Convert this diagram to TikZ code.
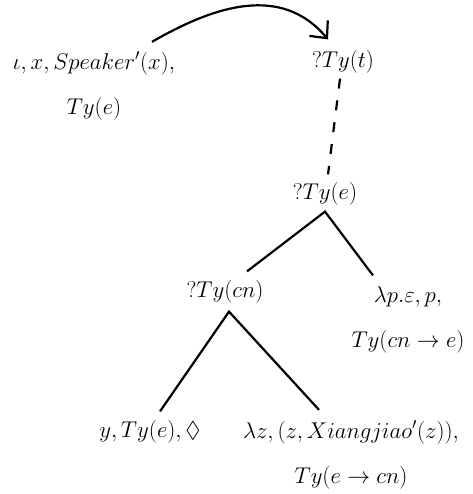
\documentclass[tikz,border=0pt]{standalone}
\usepackage{amssymb}
\usetikzlibrary{arrows.meta}
\tikzset{
  every node/.style={inner sep=0pt,align=center,scale=1.1,font=\fontsize{20.74}{41}\selectfont},
  branch/.style={line width=2.2pt,line join=miter},
  link/.style={line width=2.2pt,dash pattern=on 10pt off 12pt},
  move/.style={line width=2.2pt,-{Straight Barb[length=13pt,width=24pt]}}
}
\begin{document}
\begin{tikzpicture}[x=1pt,y=1pt]
\useasboundingbox (0,0) rectangle (472,-494);
\draw(94,-86) node(speaker){$\iota,x,Speaker'(x),$\\$Ty(e)$};
\draw(343,-62) node(t){$?Ty(t)$};
\draw(325,-194) node(e){$?Ty(e)$};
\draw(225,-292) node(cn){$?Ty(cn)$};
\draw(408,-320) node(eps){$\lambda p.\varepsilon,p,$\\$Ty(cn\rightarrow e)$};
\draw(150,-432) node(y){$y,Ty(e),\lozenge$};
\draw(351,-455) node(xiang){$\lambda z,(z,Xiangjiao'(z)),$\\$Ty(e\rightarrow cn)$};
% tree
\draw[link] ([xshift=-3pt,yshift=-5pt]t.south) -- ([xshift=3pt,yshift=8pt]e.north);
\draw[branch] ([xshift=22pt,yshift=9pt]cn.north) -- ([yshift=-6pt]e.south) -- ([xshift=-35pt,yshift=11pt]eps.north);
\draw[branch] ([xshift=10pt,yshift=9pt]y.north) -- ([xshift=4pt,yshift=-8pt]cn.south) -- ([xshift=-32pt,yshift=11pt]xiang.north);
% the link arrow
\draw[move] ([xshift=58pt,yshift=10pt]speaker.north) to[out=30,in=130,looseness=1.05] ([xshift=-15pt,yshift=11pt]t.north);
\end{tikzpicture}
\end{document}
